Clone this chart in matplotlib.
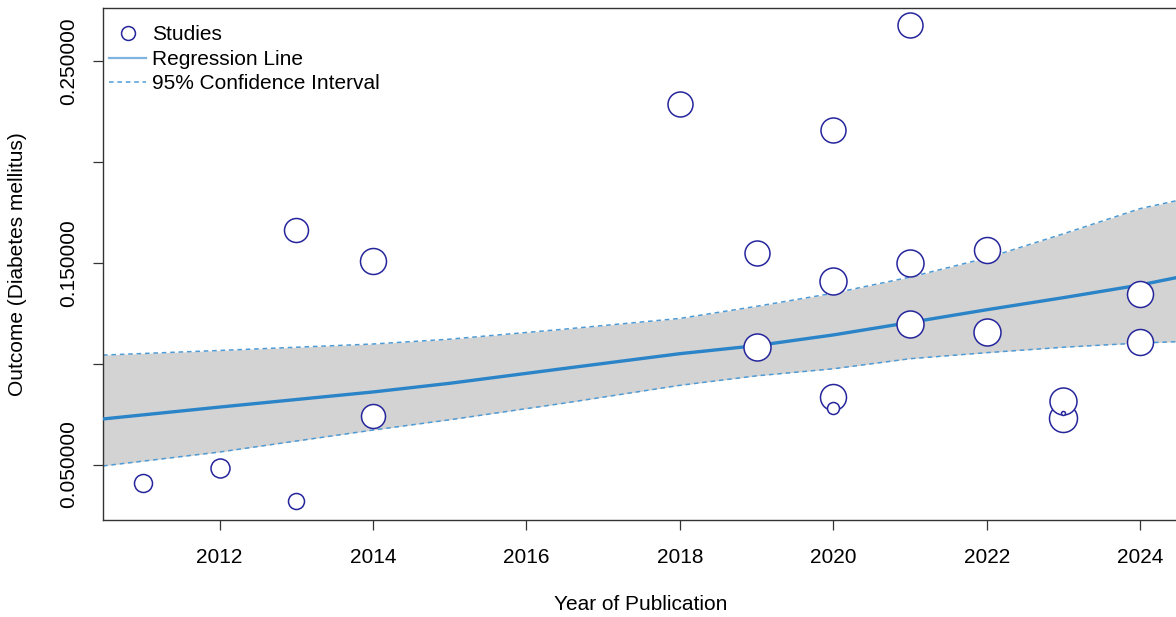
import numpy as np
import matplotlib
matplotlib.use("Agg")
import matplotlib.pyplot as plt
from matplotlib.lines import Line2D

plt.rcParams['font.family'] = ['Liberation Sans', 'DejaVu Sans']

# studies: year, outcome, relative weight (bubble radius)
years = [2011, 2012, 2013, 2013, 2014, 2014, 2018, 2019, 2019, 2020, 2020, 2020, 2020,
         2021, 2021, 2021, 2022, 2022, 2023, 2023, 2023, 2024, 2024]
outcome = [0.0406, 0.0485, 0.0321, 0.1664, 0.1510, 0.0743, 0.2287, 0.1550, 0.1083,
           0.2158, 0.1411, 0.0833, 0.0778, 0.2679, 0.1500, 0.1197, 0.1565, 0.1160,
           0.0813, 0.0733, 0.0758, 0.1346, 0.1110]
weights = [9, 9.5, 8, 12, 13, 12, 12.5, 12.5, 13.5, 12.5, 13.5, 13, 6, 12.5, 13.5, 13.5,
           13, 13.5, 13.5, 14, 2, 13, 13]

# fitted line and 95% CI
fit_x = [2010.48, 2012, 2014, 2015, 2016.5, 2018, 2019, 2020, 2021, 2022, 2023, 2024, 2024.52]
fit_y = [0.0726, 0.0785, 0.0860, 0.0903, 0.0977, 0.1050, 0.1090, 0.1143, 0.1205, 0.1268,
         0.1328, 0.1391, 0.1431]
ci_up = [0.1043, 0.1066, 0.1098, 0.1122, 0.1172, 0.1225, 0.1285, 0.1350, 0.1430, 0.1525,
         0.1645, 0.1770, 0.1813]
ci_lo = [0.0493, 0.0562, 0.0671, 0.0722, 0.0805, 0.0893, 0.0940, 0.0975, 0.1025, 0.1055,
         0.1082, 0.1103, 0.1110]

xticks = [2012, 2014, 2016, 2018, 2020, 2022, 2024]
yticks = [0.05, 0.10, 0.15, 0.20, 0.25]
ytick_labels = ['0.050000', '', '0.150000', '', '0.250000']

line_col = '#2b84c8'
ci_col = '#4f9bd6'
pt_col = '#25259c'
fs = 15

fig = plt.figure(figsize=(11.76, 6.17), dpi=100)
ax = fig.add_axes([103/1176, 1-520/617, 1077/1176, 512/617])

ax.fill_between(fit_x, ci_lo, ci_up, color='#d3d3d3', lw=0, zorder=1)
ax.plot(fit_x, ci_up, ls=(0, (3, 2.5)), color=ci_col, lw=1.1, zorder=2)
ax.plot(fit_x, ci_lo, ls=(0, (3, 2.5)), color=ci_col, lw=1.1, zorder=2)
ax.plot(fit_x, fit_y, color=line_col, lw=2.4, zorder=3)

# big bubbles first so the small ones stay visible
order = np.argsort(weights)[::-1]
px = 0.72  # points per pixel at dpi 100
for i in order:
    ax.scatter(years[i], outcome[i], s=(2*weights[i]*px)**2, facecolor='white',
               edgecolor=pt_col, linewidth=1.1, zorder=4)

ax.set_xlim(2010.48, 2024.52)
ax.set_ylim(0.02246, 0.27655)
ax.set_xticks(xticks)
ax.set_xticklabels([str(t) for t in xticks])
ax.set_yticks(yticks)
ax.set_yticklabels(ytick_labels, rotation=90, va='center')
ax.tick_params(axis='both', length=7, width=0.9, labelsize=fs, color='#333333')
ax.tick_params(axis='x', pad=13)
ax.tick_params(axis='y', pad=11)
for s in ax.spines.values():
    s.set_linewidth(1.0)
    s.set_color('#333333')

fig.text(641/1176, 1-605/617, 'Year of Publication', ha='center', va='center', fontsize=fs)
fig.text(18/1176, 1-264/617, 'Outcome (Diabetes mellitus)', ha='center', va='center',
         rotation=90, fontsize=fs)

handles = [
    Line2D([], [], ls='none', marker='o', markersize=10, markerfacecolor='white',
           markeredgecolor=pt_col, markeredgewidth=1.1),
    Line2D([], [], color='#7fb4df', lw=1.6),
    Line2D([], [], color=ci_col, lw=1.1, ls=(0, (3, 2.5))),
]
ax.legend(handles, ['Studies', 'Regression Line', '95% Confidence Interval'],
          loc='upper left', bbox_to_anchor=(0.006, 0.966), frameon=False, fontsize=fs,
          handlelength=1.75, handletextpad=0.3, labelspacing=0.26, borderpad=0,
          borderaxespad=0)

fig.savefig('out.png', dpi=100)
